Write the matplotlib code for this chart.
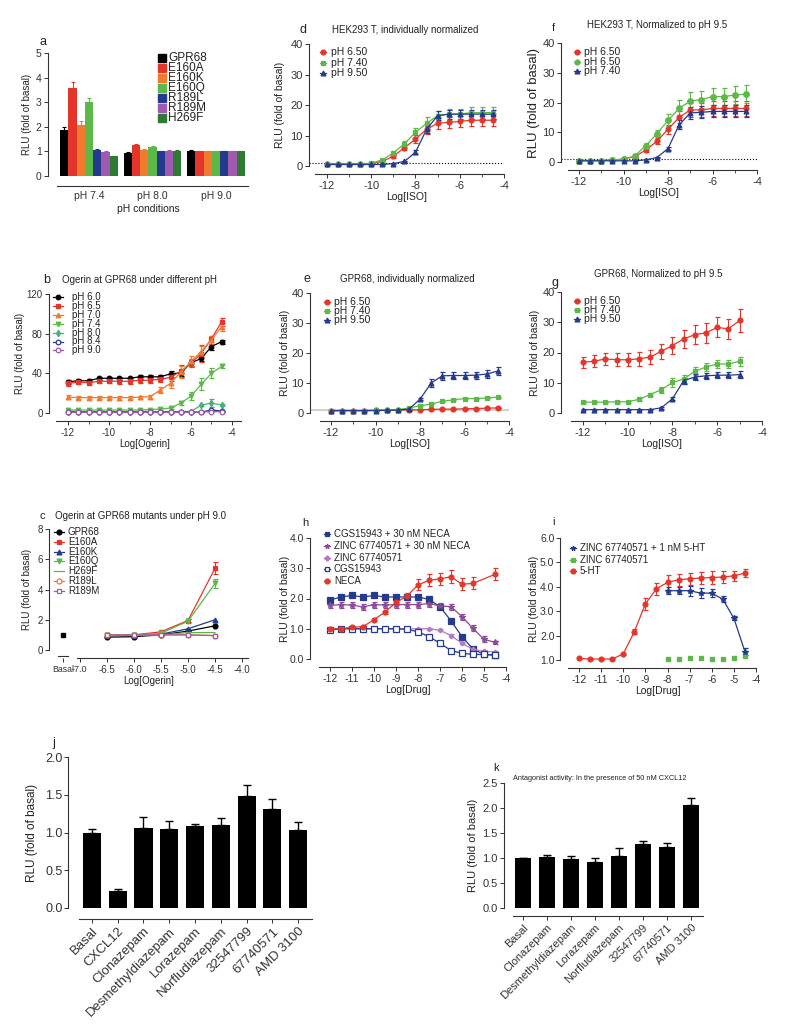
#!/usr/bin/env python3
"""Multi-panel GPR68 / ligand activity figure (panels a-k)."""

import matplotlib
matplotlib.use('Agg')
import matplotlib.pyplot as plt
import numpy as np
from matplotlib.lines import Line2D

plt.rcParams['font.family'] = ['Liberation Sans', 'DejaVu Sans']
plt.rcParams['axes.linewidth'] = 0.8
plt.rcParams['axes.edgecolor'] = '#333333'
plt.rcParams['xtick.color'] = '#333333'
plt.rcParams['ytick.color'] = '#333333'
plt.rcParams['text.color'] = '#222222'
plt.rcParams['axes.labelcolor'] = '#222222'

RED = '#e5352b'
ORANGE = '#f27a2e'
GREEN = '#5cb947'
TEAL = '#45b27a'
NAVY = '#243a8e'
PURPLE = '#a05bb0'
DKGREEN = '#2f7a33'

# ---------------- data ----------------
# a: mutants at three pH values
a_groups = ['pH 7.4', 'pH 8.0', 'pH 9.0']
a_mutants = ['GPR68', 'E160A', 'E160K', 'E160Q', 'R189L', 'R189M', 'H269F']
a_colors = ['#000000', RED, ORANGE, GREEN, NAVY, PURPLE, DKGREEN]
a_ph74 = [1.88, 3.57, 2.07, 3.00, 1.07, 0.97, 0.80]
a_ph74_err = [0.12, 0.25, 0.15, 0.18, 0.03, 0.03, 0.02]
a_ph80 = [0.93, 1.27, 1.05, 1.17, 1.00, 1.03, 1.03]
a_ph80_err = [0.03, 0.05, 0.03, 0.04, 0.02, 0.02, 0.02]
a_ph90 = [1.00, 1.00, 1.00, 1.00, 1.00, 1.00, 1.00]
a_ph90_err = [0.07, 0.02, 0.02, 0.02, 0.02, 0.02, 0.02]

# common concentration grid (log M)
log16 = [-12.0, -11.5, -11.0, -10.5, -10.0, -9.5, -9.0, -8.5,
         -8.0, -7.5, -7.0, -6.5, -6.0, -5.5, -5.0, -4.5]
log15 = log16[:15]

# b: Ogerin at GPR68 under different pH
b_ph60 = [31.5, 32.5, 32.5, 35, 35, 35, 35, 36.5, 36.5, 36.5, 39.5, 40.5, 50.5, 55, 67, 72]
b_ph60_err = [2, 1.5, 1.5, 1.5, 1.5, 1.5, 1.5, 2, 2, 2, 3, 3, 3, 3, 3, 2]
b_ph65 = [30, 31, 30.5, 32, 32, 32, 32, 33, 33, 34, 36, 42, 50, 60, 75, 92]
b_ph65_err = [3, 2, 2, 2, 2, 3, 3, 3, 3, 3, 4, 6, 4, 9, 3, 4]
b_ph70 = [16, 15.5, 15.5, 15.5, 15.5, 15.5, 15.5, 16, 16.5, 23, 30, 41, 52, 62, 74, 87]
b_ph70_err = [2, 1.5, 1.5, 1.5, 1.5, 2, 1.5, 1.5, 2, 3, 5, 6, 5, 6, 4, 4]
b_ph74 = [3, 3, 3, 3, 3, 3, 3, 3, 3.5, 4, 5, 10, 17, 29, 40, 47]
b_ph74_err = [0.5, 0.5, 0.5, 0.5, 0.5, 0.5, 0.5, 0.5, 0.5, 0.8, 1, 2, 4, 6, 5, 2]
b_ph80 = [1.5, 1.5, 1.5, 1.5, 1.5, 1.5, 1.5, 1.5, 1.5, 1.5, 1.5, 1.5, 1.5, 8, 10, 8]
b_ph80_err = [0.3] * 13 + [1, 4, 1]
b_ph84 = [1, 1, 1, 1, 1, 1, 1, 1, 1, 1, 1, 1, 1, 1, 3, 2]
b_ph84_err = [0.3] * 16
b_ph90 = [0.8, 0.8, 0.8, 0.8, 0.8, 0.8, 0.8, 0.8, 0.8, 0.8, 0.8, 0.8, 0.8, 0.8, 1.5, 1.2]
b_ph90_err = [0.3] * 16

# c: Ogerin at GPR68 mutants under pH 9.0
c_basal_x = -7.31
c_x = [-6.5, -6.0, -5.5, -5.0, -4.5]
c_gpr68 = [0.85, 0.88, 1.00, 1.25, 1.60]
c_e160a = [1.00, 1.00, 1.20, 1.95, 5.40]
c_e160a_err = [0.03, 0.03, 0.10, 0.12, 0.40]
c_e160k = [1.00, 1.00, 1.05, 1.40, 2.00]
c_e160q = [1.00, 1.00, 1.10, 1.90, 4.40]
c_e160q_err = [0.03, 0.03, 0.08, 0.12, 0.30]
c_h269f = [1.00, 1.00, 1.00, 1.15, 1.15]
c_r189l = [1.00, 1.00, 1.00, 1.00, 0.95]
c_r189m = [1.00, 1.00, 1.00, 1.00, 0.95]

# d: HEK293 T, individually normalized
d_ph650 = [0.7, 0.7, 0.7, 0.7, 0.8, 1.5, 3.2, 6.0, 8.8, 12.0, 14.0, 14.3, 14.6, 15.0, 15.0, 15.0]
d_ph650_err = [0.3, 0.3, 0.3, 0.3, 0.3, 0.4, 0.6, 0.9, 1.3, 1.5, 1.8, 1.8, 1.8, 2.0, 2.0, 2.0]
d_ph740 = [0.7, 0.7, 0.7, 0.7, 0.9, 2.0, 4.3, 7.3, 11.0, 14.0, 16.5, 17.0, 17.0, 17.5, 17.5, 17.5]
d_ph740_err = [0.3, 0.3, 0.3, 0.3, 0.3, 0.4, 0.7, 1.0, 1.6, 2.0, 1.6, 1.8, 1.8, 2.0, 2.0, 2.0]
d_ph950 = [0.5, 0.5, 0.5, 0.5, 0.5, 0.5, 0.8, 1.5, 4.5, 12.0, 16.5, 17.0, 17.0, 17.0, 17.0, 17.0]
d_ph950_err = [0.2, 0.2, 0.2, 0.2, 0.2, 0.2, 0.2, 0.3, 0.6, 1.2, 1.5, 1.5, 1.5, 1.5, 1.5, 1.5]

# e: GPR68, individually normalized
e_ph650 = [0.8, 0.8, 0.8, 0.8, 0.9, 0.9, 1.0, 1.0, 1.1, 1.2, 1.3, 1.3, 1.4, 1.5, 1.6, 1.7]
e_ph740 = [0.8, 0.8, 0.8, 0.8, 0.9, 1.0, 1.1, 1.7, 2.4, 3.0, 3.9, 4.4, 4.8, 4.8, 5.0, 5.3]
e_ph950 = [0.8, 0.8, 0.8, 0.8, 0.8, 0.9, 1.0, 1.3, 4.6, 10.0, 12.4, 12.5, 12.5, 12.6, 13.0, 14.0]
e_ph950_err = [0.1, 0.1, 0.1, 0.1, 0.1, 0.1, 0.1, 0.2, 0.4, 1.2, 1.3, 1.3, 1.2, 1.2, 1.2, 1.4]

# f: HEK293 T, normalized to pH 9.5
f_ph650 = [0.5, 0.5, 0.5, 0.6, 1.0, 1.8, 4.0, 7.0, 11.0, 15.0, 17.5, 17.5, 18.0, 18.0, 18.0, 18.0]
f_ph650_err = [0.3, 0.3, 0.3, 0.3, 0.3, 0.4, 0.6, 1.0, 1.6, 2.0, 2.5, 2.5, 2.5, 2.5, 2.5, 2.5]
f_ph650b = [0.5, 0.5, 0.5, 0.6, 1.0, 2.0, 5.5, 9.5, 14.0, 18.0, 20.5, 21.0, 22.0, 22.0, 22.5, 22.8]
f_ph650b_err = [0.3, 0.3, 0.3, 0.3, 0.3, 0.5, 0.8, 1.2, 2.0, 2.8, 3.0, 3.0, 3.0, 3.0, 3.0, 3.0]
f_ph740 = [0.4, 0.4, 0.4, 0.4, 0.4, 0.4, 0.7, 1.5, 4.5, 12.5, 16.5, 16.7, 17.0, 17.0, 17.0, 17.0]
f_ph740_err = [0.2, 0.2, 0.2, 0.2, 0.2, 0.2, 0.2, 0.3, 0.6, 1.5, 2.0, 2.0, 2.0, 2.0, 2.0, 2.0]

# g: GPR68, normalized to pH 9.5 (15 points)
g_ph650 = [16.8, 17.1, 17.9, 17.6, 17.6, 17.9, 18.5, 20.4, 22.3, 24.5, 25.9, 26.5, 28.3, 27.8, 30.6]
g_ph650_err = [1.8, 2.0, 2.0, 2.2, 2.2, 2.2, 2.2, 2.5, 2.8, 3.0, 3.2, 3.3, 3.3, 3.3, 3.8]
g_ph740 = [3.6, 3.6, 3.6, 3.7, 3.7, 4.5, 6.1, 7.7, 10.1, 11.2, 13.8, 15.2, 16.2, 16.2, 17.1]
g_ph740_err = [0.3, 0.3, 0.3, 0.3, 0.3, 0.4, 0.6, 1.0, 1.5, 1.5, 1.3, 1.3, 1.3, 1.3, 1.5]
g_ph950 = [1.1, 1.1, 1.1, 1.1, 1.1, 1.1, 1.1, 1.7, 4.7, 10.7, 11.9, 12.3, 12.5, 12.5, 12.7]
g_ph950_err = [0.2, 0.2, 0.2, 0.2, 0.2, 0.2, 0.2, 0.3, 0.5, 1.0, 1.0, 1.0, 1.0, 1.0, 1.2]

# h: adenosine receptor ligands
h_cgs_neca = [1.95, 2.05, 2.10, 2.05, 2.10, 2.05, 2.05, 2.05, 2.05, 1.97, 1.73, 1.26, 0.74, 0.33, 0.15, 0.13]
h_zinc_neca = [1.77, 1.80, 1.78, 1.72, 1.80, 1.78, 1.80, 1.80, 1.80, 1.83, 1.76, 1.73, 1.40, 1.01, 0.65, 0.55]
h_zinc_neca_err = [0.1] * 15 + [0.04]
h_zinc = [1.00, 1.00, 1.00, 1.00, 1.00, 1.00, 1.00, 1.00, 1.00, 1.00, 0.95, 0.77, 0.52, 0.32, 0.25, 0.24]
h_cgs = [0.97, 1.00, 1.00, 1.00, 1.00, 1.00, 1.00, 0.98, 0.90, 0.74, 0.52, 0.28, 0.19, 0.15, 0.15, 0.13]
h_neca_x = [-12.0, -11.5, -11.0, -10.5, -10.0, -9.5, -9.0, -8.5,
            -8.0, -7.5, -7.0, -6.5, -6.0, -5.5, -4.5]
h_neca = [1.00, 1.00, 1.05, 1.07, 1.30, 1.55, 1.87, 2.08, 2.45, 2.60, 2.65, 2.72, 2.47, 2.50, 2.80]
h_neca_err = [0.05, 0.05, 0.05, 0.05, 0.05, 0.05, 0.10, 0.10, 0.18, 0.20, 0.20, 0.22, 0.20, 0.20, 0.20]

# i: 5-HT receptor
i_x8 = [-8.0, -7.5, -7.0, -6.5, -6.0, -5.5, -5.0, -4.5]
i_5ht = [1.07, 1.04, 1.04, 1.04, 1.25, 2.16, 3.30, 3.92, 4.18, 4.29, 4.33, 4.36, 4.38, 4.40, 4.45, 4.56]
i_5ht_err = [0.03, 0.03, 0.03, 0.03, 0.05, 0.10, 0.25, 0.25, 0.30, 0.25, 0.25, 0.25, 0.25, 0.25, 0.20, 0.17]
i_zinc_5ht = [3.84, 3.84, 3.84, 3.74, 3.74, 3.49, 2.71, 1.34]
i_zinc_5ht_err = [0.15, 0.15, 0.20, 0.20, 0.15, 0.12, 0.08, 0.15]
i_zinc = [1.04, 1.05, 1.07, 1.07, 1.06, 1.05, 1.10, 1.15]

# j, k: CXCR4 compounds
j_labels = ['Basal', 'CXCL12', 'Clonazepam', 'Desmethyldiazepam', 'Lorazepam',
            'Norfludiazepam', '32547799', '67740571', 'AMD 3100']
j_vals = [1.00, 0.22, 1.06, 1.05, 1.08, 1.10, 1.49, 1.31, 1.03]
j_err = [0.05, 0.03, 0.14, 0.10, 0.03, 0.09, 0.14, 0.13, 0.11]
k_labels = ['Basal', 'Clonazepam', 'Desmethyldiazepam', 'Lorazepam',
            'Norfludiazepam', '32547799', '67740571', 'AMD 3100']
k_vals = [1.00, 1.02, 0.98, 0.92, 1.04, 1.29, 1.22, 2.06]
k_err = [0.01, 0.04, 0.06, 0.09, 0.16, 0.05, 0.08, 0.14]

# ---------------- helpers ----------------
W, H = 800, 1032
fig = plt.figure(figsize=(W / 100, H / 100), dpi=100)
YLAB = 'RLU (fold of basal)'


def new_axes(l, t, r, b):
    return fig.add_axes([l / W, 1 - b / H, (r - l) / W, (b - t) / H])


def frame(ax, fs, bounds=None, out=6):
    ax.spines['top'].set_visible(False)
    ax.spines['right'].set_visible(False)
    ax.spines['bottom'].set_position(('outward', out))
    if bounds is not None:
        ax.spines['bottom'].set_bounds(*bounds)
    ax.tick_params(labelsize=fs, length=3, width=0.7, pad=1.5)
    ax.tick_params(which='minor', length=2, width=0.6)


def ylabel_at(ax, x_px, fs):
    ax.set_ylabel(YLAB, fontsize=fs)
    bb = ax.get_position()
    ax.yaxis.set_label_coords((x_px / W - bb.x0) / bb.width, 0.5)


def ftext(x, y, s, fs, **kw):
    fig.text(x / W, 1 - y / H, s, fontsize=fs, va='center', **kw)


def legend_px(x, y0, dy, entries, fs, gap=9, line=True, ms=3.5, half=5):
    for k, (label, color, marker, face) in enumerate(entries):
        y = 1 - (y0 + k * dy) / H
        if line:
            fig.add_artist(Line2D([(x - half) / W, (x + half) / W], [y, y], color=color, lw=0.9))
        if marker:
            fig.add_artist(Line2D([x / W], [y], marker=marker, color=color, mfc=face,
                                  ms=ms, mew=0.9, ls='none'))
        fig.text((x + gap) / W, y, label, fontsize=fs, va='center')


def curve(ax, x, y, e, color, marker, face=None, ms=3.5, lw=0.9, z=3):
    ax.errorbar(x, y, yerr=e, color=color, marker=marker,
                mfc=color if face is None else face, ms=ms, lw=lw, mew=0.9,
                elinewidth=0.8, capsize=1.8, capthick=0.8, clip_on=False, zorder=z)


def log_axis(ax, xlim, bounds, ticks, fs, minor=None):
    ax.set_xlim(*xlim)
    ax.set_xticks(ticks)
    ax.set_xticklabels([str(int(t)) for t in ticks])
    if minor is not None:
        ax.set_xticks(minor, minor=True)
    frame(ax, fs, bounds)


def slanted(ax, labels):
    ax.set_xticklabels(labels)
    for t in ax.get_xticklabels():
        t.set_rotation(45)
        t.set_ha('right')
        t.set_rotation_mode('anchor')


even_ticks = [-12, -10, -8, -6, -4]
odd_minor = [-11, -9, -7, -5]

# ---------------- a ----------------
ax = new_axes(48, 53, 248, 176)
gpos = np.arange(len(a_groups))
bw = 0.13
for i, name in enumerate(a_mutants):
    vals = [a_ph74[i], a_ph80[i], a_ph90[i]]
    errs = [a_ph74_err[i], a_ph80_err[i], a_ph90_err[i]]
    ax.bar(gpos + (i - 3) * bw, vals, bw, color=a_colors[i],
           yerr=[[0, 0, 0], errs],
           error_kw=dict(ecolor=a_colors[i], lw=0.8, capsize=1.5, capthick=0.8))
ax.set_xlim(-0.646, 2.504)
ax.set_ylim(0, 5)
ax.set_yticks([0, 1, 2, 3, 4, 5])
ax.set_xticks(gpos)
ax.set_xticklabels(a_groups)
frame(ax, 7.5, (-0.504, 2.504), out=7)
ax.tick_params(axis='x', length=0, pad=4)
ax.set_xlabel('pH conditions', fontsize=7.5, labelpad=2)
ylabel_at(ax, 32, 7)
ftext(40, 42, 'a', 9)
for k, name in enumerate(a_mutants):
    y = 1 - (58 + 10 * k) / H
    fig.add_artist(Line2D([162 / W], [y], marker='s', color=a_colors[k], ms=6.3, ls='none'))
    fig.text(168 / W, y, name, fontsize=8.5, va='center')

# ---------------- b ----------------
ax = new_axes(49, 294, 241, 413)
b_series = [
    ('pH 6.0', b_ph60, b_ph60_err, '#000000', 'o', None),
    ('pH 6.5', b_ph65, b_ph65_err, RED, 's', None),
    ('pH 7.0', b_ph70, b_ph70_err, ORANGE, '^', None),
    ('pH 7.4', b_ph74, b_ph74_err, GREEN, 'v', None),
    ('pH 8.0', b_ph80, b_ph80_err, TEAL, 'd', None),
    ('pH 8.4', b_ph84, b_ph84_err, NAVY, 'o', 'white'),
    ('pH 9.0', b_ph90, b_ph90_err, PURPLE, 'o', 'white'),
]
for lab, ys, es, c, m, f in b_series:
    curve(ax, log16, ys, es, c, m, f, ms=3.3)
ax.set_ylim(0, 120)
ax.set_yticks([0, 40, 80, 120])
log_axis(ax, (-12.93, -3.56), (-12.6, -3.56), even_ticks, 7, odd_minor)
ax.set_xlabel('Log[Ogerin]', fontsize=7, labelpad=1)
ylabel_at(ax, 25, 7)
ftext(43, 280, 'b', 9)
ftext(140, 280, 'Ogerin at GPR68 under different pH', 7, ha='center')
legend_px(58, 297, 8.9, [(s[0], s[3], s[4], s[5] or s[3]) for s in b_series], 7, gap=14, ms=3.3)

# ---------------- c ----------------
ax = new_axes(49, 529, 248, 650)
c_series = [
    ('GPR68', c_gpr68, None, '#000000', 'o', None),
    ('E160A', c_e160a, c_e160a_err, RED, 's', None),
    ('E160K', c_e160k, None, NAVY, '^', None),
    ('E160Q', c_e160q, c_e160q_err, GREEN, 'v', None),
    ('H269F', c_h269f, None, GREEN, '', None),
    ('R189L', c_r189l, None, ORANGE, 'o', 'white'),
    ('R189M', c_r189m, None, PURPLE, 's', 'white'),
]
for lab, ys, es, c, m, f in c_series:
    curve(ax, c_x, ys, es, c, m if m else None, f, ms=3.5)
ax.plot([c_basal_x], [1.0], marker='s', color='#000000', ms=3.5, ls='none', clip_on=False)
ax.set_xlim(-7.57, -3.89)
ax.set_ylim(0, 8)
ax.set_yticks([0, 2, 4, 6, 8])
ax.set_xticks([c_basal_x, -7.0, -6.5, -6.0, -5.5, -5.0, -4.5, -4.0])
ax.set_xticklabels(['Basal', '-7.0', '-6.5', '-6.0', '-5.5', '-5.0', '-4.5', '-4.0'])
frame(ax, 7, (-7.05, -3.89))
ax.get_xticklabels()[0].set_fontsize(6.3)
ax.get_xticklabels()[1].set_fontsize(6.5)
ax.plot([-7.41, -7.22], [-0.4, -0.4], color='#333333', lw=0.8, clip_on=False)
ax.set_xlabel('Log[Ogerin]', fontsize=7, labelpad=1)
ylabel_at(ax, 32, 7)
ftext(40, 516, 'c', 8)
ftext(55, 516, 'Ogerin at GPR68 mutants under pH 9.0', 7)
legend_px(59, 532, 9.8, [(s[0], s[3], s[4], s[5] or s[3]) for s in c_series], 7, gap=9)

# ---------------- d ----------------
ax = new_axes(309, 44, 504, 166)
ax.axhline(1, color='#000000', lw=0.8, ls=':', zorder=1)
curve(ax, log16, d_ph650, d_ph650_err, RED, 'o')
curve(ax, log16, d_ph740, d_ph740_err, GREEN, 's')
curve(ax, log16, d_ph950, d_ph950_err, NAVY, '^')
ax.set_ylim(0, 40)
ax.set_yticks([0, 10, 20, 30, 40])
log_axis(ax, (-12.81, -4.0), (-12.54, -4.0), even_ticks, 8, odd_minor)
ax.set_xlabel('Log[ISO]', fontsize=7.5, labelpad=1)
ylabel_at(ax, 285, 7.5)
ftext(299, 30, 'd', 9)
ftext(405, 30, 'HEK293 T, individually normalized', 7, ha='center')
legend_px(323, 52, 10.5, [('pH 6.50', RED, 'o', RED), ('pH 7.40', GREEN, 's', GREEN),
                          ('pH 9.50', NAVY, '^', NAVY)], 7.5, gap=8, half=3)

# ---------------- e ----------------
ax = new_axes(310, 293, 509, 413)
ax.axhline(1, color='#c8c8c8', lw=1.2, zorder=1)
curve(ax, log16, e_ph650, [0.1] * 16, RED, 'o')
curve(ax, log16, e_ph740, [0.15] * 16, GREEN, 's')
curve(ax, log16, e_ph950, e_ph950_err, NAVY, '^')
ax.set_ylim(0, 40)
ax.set_yticks([0, 10, 20, 30, 40])
log_axis(ax, (-12.95, -4.0), (-12.5, -4.0), even_ticks, 8, odd_minor)
ax.set_xlabel('Log[ISO]', fontsize=7.5, labelpad=1)
ylabel_at(ax, 290, 7.5)
ftext(303, 279, 'e', 9)
ftext(407, 279, 'GPR68, individually normalized', 7, ha='center')
legend_px(327, 302, 9, [('pH 6.50', RED, 'o', RED), ('pH 7.40', GREEN, 's', GREEN),
                        ('pH 9.50', NAVY, '^', NAVY)], 7.5, gap=7, half=3)

# ---------------- f ----------------
ax = new_axes(561, 43, 757, 162)
ax.axhline(1, color='#000000', lw=0.8, ls=':', zorder=1)
curve(ax, log16, f_ph650, f_ph650_err, RED, 'o')
curve(ax, log16, f_ph650b, f_ph650b_err, GREEN, 'o', ms=4)
curve(ax, log16, f_ph740, f_ph740_err, NAVY, '^')
ax.set_ylim(0, 40)
ax.set_yticks([0, 10, 20, 30, 40])
log_axis(ax, (-12.81, -4.0), (-12.5, -4.0), even_ticks, 8, odd_minor)
ax.set_xlabel('Log[ISO]', fontsize=7.5, labelpad=1)
ylabel_at(ax, 540, 9.5)
ftext(552, 28, 'f', 8)
ftext(657, 25, 'HEK293 T, Normalized to pH 9.5', 7, ha='center')
legend_px(577, 52, 9.6, [('pH 6.50', RED, 'o', RED), ('pH 6.50', GREEN, 'o', GREEN),
                         ('pH 7.40', NAVY, '^', NAVY)], 7.5, gap=7, half=3)

# ---------------- g ----------------
ax = new_axes(561, 292, 762, 413)
curve(ax, log15, g_ph650, g_ph650_err, RED, 'o')
curve(ax, log15, g_ph740, g_ph740_err, GREEN, 's')
curve(ax, log15, g_ph950, g_ph950_err, NAVY, '^')
ax.set_ylim(0, 40)
ax.set_yticks([0, 10, 20, 30, 40])
log_axis(ax, (-12.98, -4.0), (-12.55, -4.0), even_ticks, 8, odd_minor)
ax.set_xlabel('Log[ISO]', fontsize=7.5, labelpad=1)
ylabel_at(ax, 540, 7.5)
ftext(552, 283, 'g', 9)
ftext(658, 274, 'GPR68, Normalized to pH 9.5', 7, ha='center')
legend_px(577, 301, 9.2, [('pH 6.50', RED, 'o', RED), ('pH 7.40', GREEN, 's', GREEN),
                          ('pH 9.50', NAVY, '^', NAVY)], 7.5, gap=7, half=3)

# ---------------- h ----------------
ax = new_axes(310, 538, 506, 659)
curve(ax, log16, h_cgs_neca, [0.06] * 16, NAVY, 's', ms=3.8)
curve(ax, log16, h_zinc_neca, h_zinc_neca_err, '#8e4a98', '*', ms=4)
curve(ax, log16, h_zinc, [0.04] * 16, '#b47ac2', 'P', ms=3)
curve(ax, log16, h_cgs, [0.04] * 16, NAVY, 's', 'white', ms=3.8)
curve(ax, h_neca_x, h_neca, h_neca_err, RED, 'o', ms=3.5)
ax.set_ylim(0, 4)
ax.set_yticks([0, 1, 2, 3, 4])
ax.set_yticklabels(['0.0', '1.0', '2.0', '3.0', '4.0'])
log_axis(ax, (-12.91, -4.0), (-12.5, -4.0), list(range(-12, -3)), 7.5)
ax.set_xlabel('Log[Drug]', fontsize=7.5, labelpad=1)
ylabel_at(ax, 290, 7.5)
ftext(302, 523, 'h', 8)
legend_px(327, 534, 11.8, [('CGS15943 + 30 nM NECA', NAVY, 's', NAVY),
                           ('ZINC 67740571 + 30 nM NECA', '#8e4a98', '*', '#8e4a98'),
                           ('ZINC 67740571', '#b47ac2', 'P', '#b47ac2'),
                           ('CGS15943', NAVY, 's', 'white'),
                           ('NECA', RED, 'o', RED)], 7, gap=7, half=3)

# ---------------- i ----------------
ax = new_axes(560, 538, 756, 660)
curve(ax, log16, i_5ht, i_5ht_err, RED, 'o')
curve(ax, i_x8, i_zinc_5ht, i_zinc_5ht_err, NAVY, '*', ms=4)
ax.plot(i_x8, i_zinc, marker='s', color=GREEN, ms=3.5, ls='none', clip_on=False, zorder=3)
ax.set_ylim(1, 6)
ax.set_yticks([1, 2, 3, 4, 5, 6])
ax.set_yticklabels(['1.0', '2.0', '3.0', '4.0', '5.0', '6.0'])
log_axis(ax, (-12.86, -4.0), (-12.5, -4.0), list(range(-12, -3)), 7.5)
ax.tick_params(axis='y', pad=1)
ax.set_xlabel('Log[Drug]', fontsize=7.5, labelpad=1)
ylabel_at(ax, 539, 7.5)
ftext(552, 522, 'i', 8)
legend_px(573, 548, 11.6, [('ZINC 67740571 + 1 nM 5-HT', NAVY, '*', NAVY),
                           ('ZINC 67740571', GREEN, 's', GREEN),
                           ('5-HT', RED, 'o', RED)], 7, gap=7, half=3)

# ---------------- j ----------------
ax = new_axes(68, 757, 312, 908)
jpos = np.arange(len(j_labels))
ax.bar(jpos, j_vals, 0.7, color='#000000', yerr=[[0] * len(j_vals), j_err],
       error_kw=dict(ecolor='#000000', lw=1.0, capsize=3, capthick=1.0))
ax.set_xlim(-0.93, 8.54)
ax.set_ylim(0, 2)
ax.set_yticks([0, 0.5, 1.0, 1.5, 2.0])
ax.set_yticklabels(['0.0', '0.5', '1.0', '1.5', '2.0'])
ax.set_xticks(jpos)
frame(ax, 9.5, (-0.5, 8.54), out=8)
ax.tick_params(axis='y', labelsize=9, pad=1)
slanted(ax, j_labels)
ylabel_at(ax, 38, 8.5)
ftext(52, 743, 'j', 9)

# ---------------- k ----------------
ax = new_axes(504, 783, 703, 908)
kpos = np.arange(len(k_labels))
ax.bar(kpos, k_vals, 0.7, color='#000000', yerr=[[0] * len(k_vals), k_err],
       error_kw=dict(ecolor='#000000', lw=1.0, capsize=3, capthick=1.0))
ax.set_xlim(-0.79, 7.5)
ax.set_ylim(0, 2.5)
ax.set_yticks([0, 0.5, 1.0, 1.5, 2.0, 2.5])
ax.set_yticklabels(['0.0', '0.5', '1.0', '1.5', '2.0', '2.5'])
ax.set_xticks(kpos)
frame(ax, 8, (-0.42, 7.5), out=6)
slanted(ax, k_labels)
ylabel_at(ax, 478, 8)
ftext(493, 768, 'k', 8)
ftext(513, 779, 'Antagonist activity: In the presence of 50 nM CXCL12', 5.3)

fig.savefig('out.png', dpi=100)
